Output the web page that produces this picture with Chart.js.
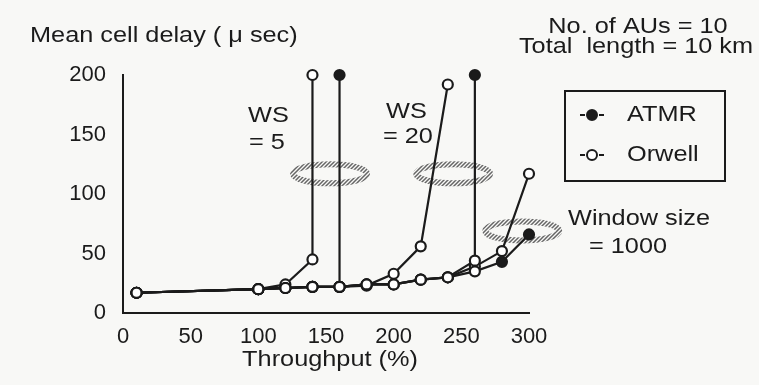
<!DOCTYPE html>
<html>
<head>
<meta charset="utf-8">
<script src="https://cdn.jsdelivr.net/npm/chart.js@4/dist/chart.umd.min.js"></script>
<style>
html, body { margin: 0; padding: 0; background: #f8f8f6; }
canvas { display: block; }
</style>
</head>
<body>
<canvas id="delayChart" width="759" height="385"></canvas>
<script>
// throughput (%) and mean cell delay (usec)
const orwellWs5X = [10, 100, 120, 140, 140];
const orwellWs5Y = [17, 20, 24, 45, 200];
const atmrWs5X = [10, 100, 120, 140, 160, 160];
const atmrWs5Y = [17, 20, 21, 22, 22, 200];

const orwellWs20X = [10, 100, 120, 140, 160, 180, 200, 220, 240];
const orwellWs20Y = [17, 20, 21, 22, 22, 23, 33, 56, 192];
const atmrWs20X = [10, 100, 120, 140, 160, 180, 200, 220, 240, 260, 260];
const atmrWs20Y = [17, 20, 21, 22, 22, 24, 24, 28, 30, 44, 200];

const orwellWs1000X = [10, 100, 120, 140, 160, 180, 200, 220, 240, 260, 280, 300];
const orwellWs1000Y = [17, 20, 21, 22, 22, 24, 24, 28, 30, 39, 52, 117];
const atmrWs1000X = [10, 100, 120, 140, 160, 180, 200, 220, 240, 260, 280, 300];
const atmrWs1000Y = [17, 20, 21, 22, 22, 24, 24, 28, 30, 35, 43, 66];

const xTicks = [0, 50, 100, 150, 200, 250, 300];
const yTicks = [0, 50, 100, 150, 200];

// hatched rings grouping each window size (centre in data units)
const ringX = [153, 244, 295];
const ringY = [117, 117, 69];

const ink = '#1b1b1b';
const font = '"Liberation Sans", Arial, sans-serif';
const stretch = 1.15; // the scanned lettering is wide

function pairs(xs, ys) {
    return xs.map((x, i) => ({ x: x, y: ys[i] }));
}

function series(label, xs, ys, solid) {
    return {
        label: label,
        data: pairs(xs, ys),
        borderColor: ink,
        borderWidth: 2.2,
        pointRadius: 5,
        pointBorderWidth: 2.2,
        pointBorderColor: ink,
        pointBackgroundColor: ctx => {
            if (!solid || !ctx.raw) return '#fff';
            return (ctx.raw.y >= 150 || ctx.raw.x >= 280) ? ink : '#fff';
        },
        tension: 0,
        clip: false
    };
}

function hatch() {
    const c = document.createElement('canvas');
    c.width = 4; c.height = 4;
    const g = c.getContext('2d');
    g.strokeStyle = '#666';
    g.lineWidth = 1.5;
    g.beginPath();
    g.moveTo(0, 4); g.lineTo(4, 0);
    g.moveTo(-1, 1); g.lineTo(1, -1);
    g.moveTo(3, 5); g.lineTo(5, 3);
    g.stroke();
    return c;
}

function label(ctx, text, x, y, align) {
    ctx.save();
    ctx.translate(x, y);
    ctx.scale(stretch, 1);
    ctx.textAlign = align || 'left';
    ctx.fillText(text, 0, 0);
    ctx.restore();
}

const decor = {
    id: 'decor',
    beforeDatasetsDraw(chart) {
        const ctx = chart.ctx;
        const sx = chart.scales.x, sy = chart.scales.y;
        ctx.save();
        ctx.strokeStyle = ctx.createPattern(hatch(), 'repeat');
        ctx.lineWidth = 6;
        for (let i = 0; i < ringX.length; i++) {
            ctx.beginPath();
            ctx.ellipse(sx.getPixelForValue(ringX[i]), sy.getPixelForValue(ringY[i]), 37, 9.5, 0, 0, Math.PI * 2);
            ctx.stroke();
        }
        ctx.restore();
    },
    afterDraw(chart) {
        const ctx = chart.ctx;
        ctx.save();
        ctx.fillStyle = ink;
        ctx.textBaseline = 'middle';
        ctx.font = '22px ' + font;

        label(ctx, 'Mean cell delay ( \u03bc sec)', 30, 36);
        label(ctx, 'WS', 248, 116);
        label(ctx, '= 5', 249, 143);
        label(ctx, 'WS', 386, 112);
        label(ctx, '= 20', 383, 137);
        label(ctx, 'Window size', 568, 219);
        label(ctx, '= 1000', 589, 247);

        label(ctx, 'No. of AUs = 10', 638, 27, 'center');
        label(ctx, 'Total  length = 10 km', 636, 47, 'center');
        label(ctx, 'Throughput (%)', 330, 360, 'center');

        // legend box
        ctx.strokeStyle = ink;
        ctx.lineWidth = 2;
        ctx.strokeRect(565, 91, 160, 90);
        label(ctx, 'ATMR', 627, 115);
        label(ctx, 'Orwell', 627, 155);
        [[115, ink], [155, '#fff']].forEach(([y, fill]) => {
            ctx.beginPath();
            ctx.moveTo(580, y); ctx.lineTo(585, y);
            ctx.moveTo(599, y); ctx.lineTo(604, y);
            ctx.stroke();
            ctx.beginPath();
            ctx.arc(592, y, 5, 0, Math.PI * 2);
            ctx.fillStyle = fill;
            ctx.fill();
            ctx.stroke();
        });
        ctx.restore();
    }
};

new Chart(document.getElementById('delayChart'), {
    type: 'line',
    data: {
        datasets: [
            series('ATMR WS=5', atmrWs5X, atmrWs5Y, true),
            series('ATMR WS=20', atmrWs20X, atmrWs20Y, true),
            series('ATMR WS=1000', atmrWs1000X, atmrWs1000Y, true),
            series('Orwell WS=5', orwellWs5X, orwellWs5Y, false),
            series('Orwell WS=20', orwellWs20X, orwellWs20Y, false),
            series('Orwell WS=1000', orwellWs1000X, orwellWs1000Y, false)
        ]
    },
    options: {
        responsive: false,
        animation: false,
        layout: { padding: { left: 0, top: 75, right: 230, bottom: 0 } },
        plugins: { legend: { display: false }, tooltip: { enabled: false } },
        scales: {
            x: {
                type: 'linear',
                min: 0, max: 300,
                afterBuildTicks: s => { s.ticks = xTicks.map(v => ({ value: v })); },
                afterFit: s => { s.height = 72; },
                grid: { display: false, drawTicks: false },
                border: { display: true, color: ink, width: 2 },
                ticks: { color: ink, padding: 11, font: { family: font, size: 22 } }
            },
            y: {
                type: 'linear',
                min: 0, max: 200,
                afterBuildTicks: s => { s.ticks = yTicks.map(v => ({ value: v })); },
                afterFit: s => { s.width = 123; },
                grid: { display: false, drawTicks: false },
                border: { display: true, color: ink, width: 2 },
                ticks: { color: ink, padding: 17, font: { family: font, size: 22 } }
            }
        }
    },
    plugins: [decor]
});
</script>
</body>
</html>
